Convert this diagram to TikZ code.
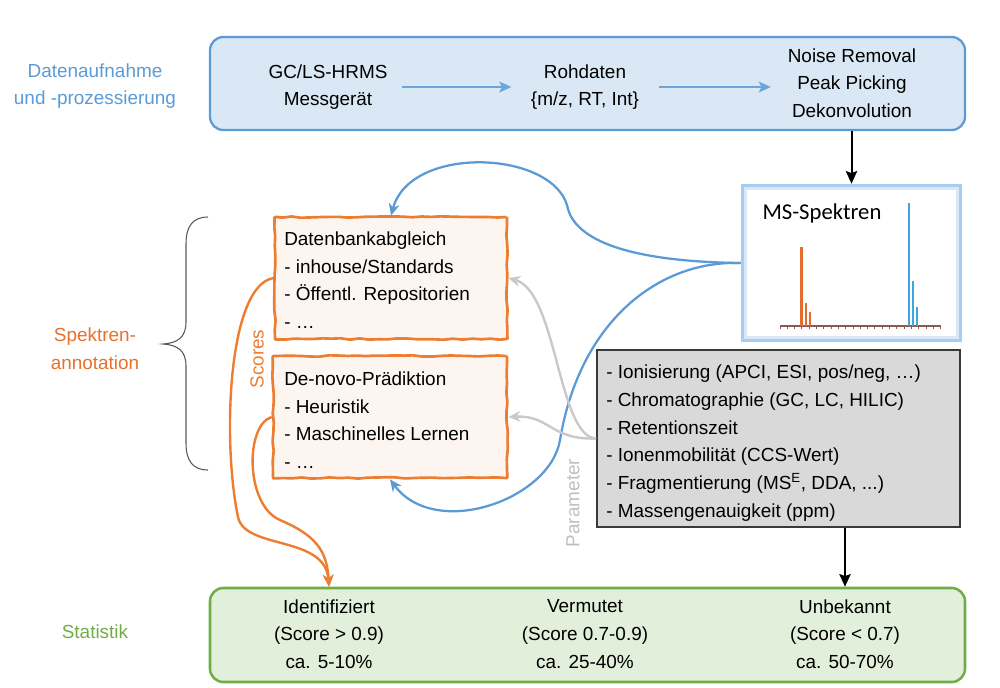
\documentclass[tikz,border=0pt]{standalone}
\usepackage{fontspec}
\setmainfont{Liberation Sans}
\newfontfamily\msfont{Carlito}
\usetikzlibrary{arrows.meta,fit,decorations.pathmorphing}
\definecolor{cblue}{HTML}{5B9BD5}
\definecolor{cbluefill}{HTML}{DAE8F6}
\definecolor{msouter}{HTML}{A9CCEE}
\definecolor{msinner}{HTML}{D8E8F8}
\definecolor{corange}{HTML}{ED7D31}
\definecolor{clorange}{HTML}{E8702A}
\definecolor{cpeach}{HTML}{FDF6F0}
\definecolor{cgray}{HTML}{D9D9D9}
\definecolor{cdark}{HTML}{3A3A3A}
\definecolor{cgreen}{HTML}{70AD47}
\definecolor{cgreenfill}{HTML}{E2EFDA}
\definecolor{clgray}{HTML}{C9C9C9}
\definecolor{cparam}{HTML}{BFBFBF}
\definecolor{cbrace}{HTML}{595959}
\definecolor{caxis}{HTML}{8C5A50}
\definecolor{cpeakO}{HTML}{E46C2E}
\definecolor{cpeakB}{HTML}{3DA5E0}
\begin{document}
\begin{tikzpicture}[x=0.75pt,y=-0.75pt,
  every node/.style={font=\fontsize{14.2}{20.8}\selectfont},
  topbox/.style={draw=cblue, fill=cbluefill, line width=1.7pt, rounded corners=10pt, inner sep=0pt},
  msbox/.style={draw=msouter, fill=white, line width=3.4pt, inner sep=0pt},
  orangebox/.style={draw=corange, fill=cpeach, line width=2pt, inner sep=0pt,
    decorate, decoration={random steps, segment length=7pt, amplitude=0.55pt}, rounded corners=0.6pt},
  graybox/.style={draw=cdark, fill=cgray, line width=1.2pt, inner sep=0pt},
  greenbox/.style={draw=cgreen, fill=cgreenfill, line width=1.9pt, rounded corners=10pt, inner sep=0pt},
  txt/.style={align=center, inner sep=2pt},
  ltxt/.style={align=left, anchor=west, inner sep=0pt},
  lbl/.style={align=center, inner sep=0pt},
  barrow/.style={draw=cblue!90, line width=2pt, -{Stealth[length=9pt,width=8pt,inset=2pt]}},
  karrow/.style={draw=black, line width=1.5pt, -{Stealth[length=9.5pt,width=8.5pt,inset=1.5pt]}},
  bcurve/.style={draw=cblue, line width=1.7pt, -{Stealth[length=9pt,width=8pt,inset=2.8pt]}},
  gcurve/.style={draw=clgray, line width=1.8pt, -{Stealth[length=9pt,width=8pt,inset=2.8pt]}},
  ocurve/.style={draw=corange, line width=1.8pt, -{Stealth[length=9pt,width=8pt,inset=2.8pt]}},
  axisline/.style={draw=caxis, line width=1pt},
  opeak/.style={draw=cpeakO, line width=1.7pt},
  bpeak/.style={draw=cpeakB, line width=1.7pt}
]
\useasboundingbox (0,0) rectangle (1000,687);

% side labels
\node[lbl, text=cblue] (l1) at (95,86) {Datenaufnahme\\und -prozessierung};
\node[lbl, text=clorange] (l2) at (95,349) {Spektren-\\annotation};
\node[lbl, text=cgreen] (l3) at (95,632) {Statistik};

% brace
\draw[cbrace, line width=0.8pt] (208,217) .. controls (193,217) and (186,226) .. (186,244)
  -- (186,322) .. controls (186,337) and (178,343) .. (163,344)
  .. controls (178,345) and (186,351) .. (186,366)
  -- (186,443) .. controls (186,461) and (193,470) .. (208,470);

% boxes
\node[topbox, fit={(210,37) (965,130)}] (top) {};
\node[msbox, fit={(743,186) (960,340)}] (ms) {};
\draw[msinner, line width=2.4pt] ([xshift=3.8pt,yshift=-3.8pt]ms.north west) rectangle ([xshift=-3.8pt,yshift=3.8pt]ms.south east);
\node[orangebox, fit={(275,217) (507,339)}] (db) {};
\node[orangebox, fit={(273,356) (507,478)}] (dn) {};
\node[graybox, fit={(597,350) (960,527)}] (par) {};
\node[greenbox, fit={(210,588) (965,682)}] (stat) {};

% top texts
\node[txt] (gc) at (328,87) {GC/LS-HRMS\\Messgerät};
\node[txt] (roh) at (585,87) {Rohdaten\\\{m/z, RT, Int\}};
\node[txt] (proc) at (852,83) {Noise Removal\\Peak Picking\\Dekonvolution};
\draw[barrow, shorten <=9pt, shorten >=12.5pt] (gc.east) -- (roh.west);
\draw[barrow, shorten <=12.5pt, shorten >=10.5pt] (roh.east) -- (roh.east -| proc.west);
\draw[karrow] (top.south -| ms.north) -- (ms.north);

% MS spectrum
\node[font=\msfont\fontsize{17}{20}\selectfont, inner sep=0pt] (mst) at (822,213) {MS-Spektren};
\draw[axisline] (780,326) -- (940.5,326);
\foreach \i in {0,...,22} \draw[axisline, line width=0.7pt] ({780+\i*7.3},326) -- ++(0,3);
\draw[opeak] (801.5,326) -- (801.5,247);
\draw[opeak] (806,326) -- (806,303);
\draw[opeak] (810,326) -- (810,312);
\draw[bpeak] (909,326) -- (909,203);
\draw[bpeak] (913,326) -- (913,281);
\draw[bpeak] (917,326) -- (917,307);

% annotation texts
\node[ltxt] (dbt) at (284,280) {Datenbankabgleich\\- inhouse/Standards\\- Öffentl. Repositorien\\- …};
\node[ltxt] (dnt) at (284,420) {De-novo-Prädiktion\\- Heuristik\\- Maschinelles Lernen\\- …};
\node[ltxt] (part) at (606,443) {- Ionisierung (APCI, ESI, pos/neg, …)\\- Chromatographie (GC, LC, HILIC)\\- Retentionszeit\\- Ionenmobilität (CCS-Wert)\\- Fragmentierung (MS\textsuperscript{E}, DDA, ...)\\- Massengenauigkeit (ppm)};

% statistics texts
\node[txt] (ident) at (329,634) {Identifiziert\\(Score > 0.9)\\ca. 5-10\%};
\node[txt] (verm) at (585,634) {Vermutet\\(Score 0.7-0.9)\\ca. 25-40\%};
\node[txt] (unb) at (845,634) {Unbekannt\\(Score < 0.7)\\ca. 50-70\%};
\draw[karrow] (par.south -| unb.north) -- (stat.north -| unb.north);

% blue curves
\draw[bcurve] (ms.west) .. controls (660,262) and (575,250) .. (567,205)
  .. controls (550,150) and (410,145) .. (db.north);
\draw[bcurve] (ms.west) .. controls (660,260) and (580,320) .. (560,440)
  .. controls (550,500) and (435,540) .. (dn.south);

% gray curves
\draw[gcurve] (par.west) .. controls (558,437) and (557,292) .. (db.east);
\draw[gcurve] (par.west) .. controls (550,440) and (550,415) .. (dn.east);
\node[rotate=90, text=cparam, inner sep=0pt] (pm) at (573,503) {Parameter};

% orange curves
\draw[ocurve] (db.west) .. controls (228,285) and (222,440) .. (238,517)
  .. controls (245,550) and (325,535) .. (stat.north -| ident.north);
\draw[ocurve] (dn.west) .. controls (245,425) and (245,505) .. (280,520)
  .. controls (315,535) and (327,550) .. (stat.north -| ident.north);
\node[rotate=90, text=corange, inner sep=0pt] (sc) at (257,359) {Scores};
\end{tikzpicture}
\end{document}
